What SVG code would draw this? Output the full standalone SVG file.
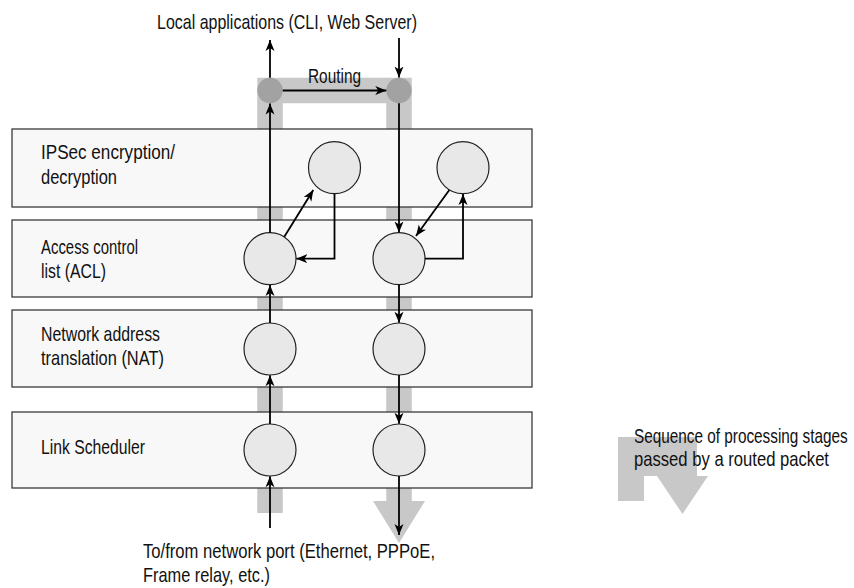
<svg xmlns="http://www.w3.org/2000/svg" width="854" height="588" viewBox="0 0 854 588">
<defs>
<style>
text{font-family:"Liberation Sans","DejaVu Sans",sans-serif;font-size:21px;fill:#111}
.box{fill:#f8f8f8;stroke:#3a3a3a;stroke-width:1.3}
.stage{fill:#e8e8e8;stroke:#222;stroke-width:1.2}
.hub{fill:#a2a2a2}
.band{fill:none;stroke:#c8c8c8;stroke-width:25.5;stroke-linejoin:miter}
.bandfill{fill:#c8c8c8}
.c{fill:none;stroke:#000;stroke-width:1.8;marker-end:url(#ah)}
</style>
<marker id="ah" markerWidth="12" markerHeight="10" refX="11" refY="4.5" orient="auto" markerUnits="userSpaceOnUse" viewBox="0 0 12 9">
<path d="M0,0 L11,4.5 L0,9 L3,4.5 z" fill="#000"/>
</marker>
</defs>
<rect width="854" height="588" fill="#fff"/>

<g id="routing-path">
<polyline class="band" points="270,513 270,90.5 399,90.5 399,502"/>
<polygon class="bandfill" points="373,501 425,501 399,543"/>
</g>

<g id="layer-ipsec">
<rect class="box" x="12" y="129" width="520" height="78"/>
<text x="41" y="159" textLength="134" lengthAdjust="spacingAndGlyphs">IPSec encryption/</text>
<text x="41" y="184" textLength="76" lengthAdjust="spacingAndGlyphs">decryption</text>
</g>
<g id="layer-acl">
<rect class="box" x="12" y="220" width="520" height="77"/>
<text x="41" y="254" textLength="97" lengthAdjust="spacingAndGlyphs">Access control</text>
<text x="41" y="278" textLength="65" lengthAdjust="spacingAndGlyphs">list (ACL)</text>
</g>
<g id="layer-nat">
<rect class="box" x="12" y="310" width="520" height="77"/>
<text x="41" y="341" textLength="119" lengthAdjust="spacingAndGlyphs">Network address</text>
<text x="41" y="365" textLength="123" lengthAdjust="spacingAndGlyphs">translation (NAT)</text>
</g>
<g id="layer-sched">
<rect class="box" x="12" y="412" width="520" height="76"/>
<text x="41" y="454" textLength="104" lengthAdjust="spacingAndGlyphs">Link Scheduler</text>
</g>

<g id="hub-left"><circle class="hub" cx="270" cy="90.5" r="12.7"/></g>
<g id="hub-right"><circle class="hub" cx="399" cy="90.5" r="12.7"/></g>
<g id="ipsec-in"><circle class="stage" cx="334.5" cy="167.7" r="26"/></g>
<g id="ipsec-out"><circle class="stage" cx="463" cy="167.7" r="26"/></g>
<g id="acl-in"><circle class="stage" cx="270" cy="258.7" r="26"/></g>
<g id="acl-out"><circle class="stage" cx="399" cy="258.7" r="26"/></g>
<g id="nat-in"><circle class="stage" cx="270" cy="349" r="26"/></g>
<g id="nat-out"><circle class="stage" cx="399" cy="349" r="26"/></g>
<g id="sched-in"><circle class="stage" cx="270" cy="450" r="26"/></g>
<g id="sched-out"><circle class="stage" cx="399" cy="450" r="26"/></g>

<g id="connectors">
<line class="c" x1="270" y1="77.8" x2="270" y2="40"/>
<line class="c" x1="399" y1="38" x2="399" y2="77.5"/>
<line class="c" x1="282.7" y1="90.5" x2="386.3" y2="90.5"/>
<line class="c" x1="270" y1="232.7" x2="270" y2="103.5"/>
<line class="c" x1="399" y1="103.2" x2="399" y2="232.5"/>
<line class="c" x1="284.3" y1="236.7" x2="313.3" y2="190"/>
<polyline class="c" points="334.5,193.7 334.5,258.7 296.3,258.7"/>
<line class="c" x1="449.3" y1="190" x2="416" y2="236"/>
<polyline class="c" points="425,258.7 463,258.7 463,194"/>
<line class="c" x1="270" y1="323" x2="270" y2="285"/>
<line class="c" x1="399" y1="284.7" x2="399" y2="322.8"/>
<line class="c" x1="270" y1="424" x2="270" y2="375.2"/>
<line class="c" x1="399" y1="375" x2="399" y2="423.8"/>
<line class="c" x1="270" y1="528" x2="270" y2="476.3"/>
<line class="c" x1="399" y1="476" x2="399" y2="535"/>
</g>

<g id="labels">
<text x="157" y="29" textLength="260" lengthAdjust="spacingAndGlyphs">Local applications (CLI, Web Server)</text>
<text x="308" y="83" textLength="53" lengthAdjust="spacingAndGlyphs">Routing</text>
<text x="143" y="557.5" textLength="292" lengthAdjust="spacingAndGlyphs">To/from network port (Ethernet, PPPoE,</text>
<text x="143" y="581.5" textLength="127" lengthAdjust="spacingAndGlyphs">Frame relay, etc.)</text>
</g>

<g id="legend">
<polygon class="bandfill" points="618,437 697,437 697,476 708,476 682.5,514 657,476 644,476 644,501 618,501"/>
<text transform="translate(634,443) scale(0.75,1)" x="0" y="0" textLength="285" lengthAdjust="spacingAndGlyphs">Sequence of processing stages</text>
<text transform="translate(634,466) scale(0.75,1)" x="0" y="0" textLength="260" lengthAdjust="spacingAndGlyphs">passed by a routed packet</text>
</g>
</svg>
